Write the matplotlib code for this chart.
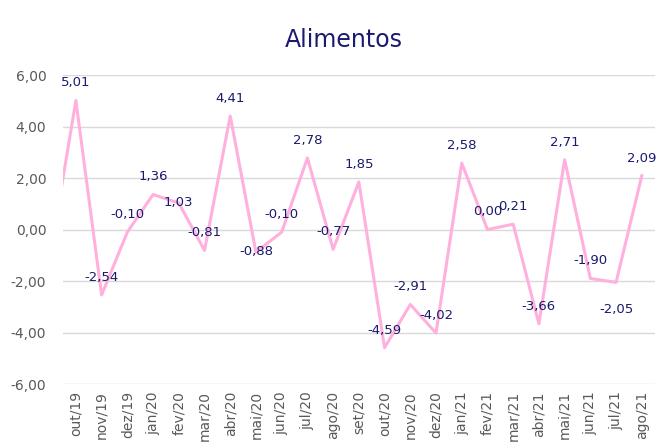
import matplotlib.pyplot as plt
import numpy as np

# monthly change, set/19 is only partly visible at the left edge
months = ["set/19", "out/19", "nov/19", "dez/19", "jan/20", "fev/20", "mar/20", "abr/20",
          "mai/20", "jun/20", "jul/20", "ago/20", "set/20", "out/20", "nov/20", "dez/20",
          "jan/21", "fev/21", "mar/21", "abr/21", "mai/21", "jun/21", "jul/21", "ago/21"]
values = [-1.0, 5.01, -2.54, -0.10, 1.36, 1.03, -0.81, 4.41,
          -0.88, -0.10, 2.78, -0.77, 1.85, -4.59, -2.91, -4.02,
          2.58, 0.00, 0.21, -3.66, 2.71, -1.90, -2.05, 2.09]
yticks = [-6, -4, -2, 0, 2, 4, 6]

navy = "#1a1a6e"
grey = "#595959"

fig = plt.figure(figsize=(6.67, 4.44), dpi=100)
ax = fig.add_axes([0.0945, 0.135, 0.887, 0.696])

x = np.arange(len(months))
ax.plot(x, values, color="#ffb0dc", lw=2.2, clip_on=True, zorder=3)

# label offsets in points (most sit above the point)
offsets = {5: (0, -4), 8: (0, -4), 22: (0, -24)}
for i in range(1, len(values)):
    dx, dy = offsets.get(i, (0, 8))
    ax.annotate(f"{values[i]:.2f}".replace(".", ","), (x[i], values[i]),
                xytext=(dx, dy), textcoords="offset points", ha="center", va="bottom",
                color=navy, fontsize=9.5, zorder=4)

ax.set_xlim(0.5, len(months) - 0.5)
ax.set_ylim(-6, 6)
ax.set_yticks(yticks)
ax.set_yticklabels([f"{v:.2f}".replace(".", ",") for v in yticks])
ax.set_xticks(x[1:])
ax.set_xticklabels(months[1:], rotation=90)
ax.tick_params(axis="both", length=0, colors=grey, labelsize=10)
ax.tick_params(axis="y", pad=12)
ax.tick_params(axis="x", pad=5)
ax.grid(axis="y", color="#d9d9d9", lw=1)
ax.set_axisbelow(True)
for s in ax.spines.values():
    s.set_visible(False)

fig.text(0.515, 0.91, "Alimentos", ha="center", va="center", fontsize=17, color=navy)

fig.savefig("out.png", dpi=100)
